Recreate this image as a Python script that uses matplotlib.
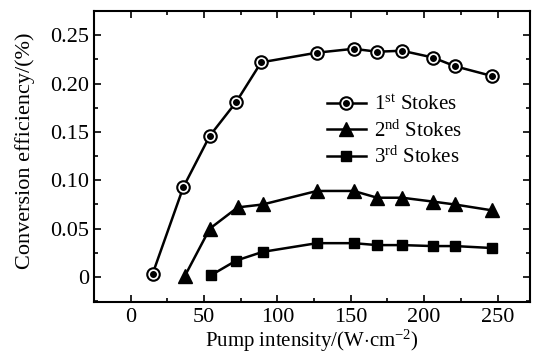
import matplotlib
matplotlib.use("Agg")
import matplotlib.pyplot as plt
from matplotlib.legend_handler import HandlerTuple
from matplotlib.ticker import MultipleLocator

plt.rcParams['font.family'] = ['Liberation Serif', 'DejaVu Serif']
plt.rcParams['mathtext.fontset'] = 'custom'
plt.rcParams['mathtext.rm'] = 'Liberation Serif'
plt.rcParams['mathtext.it'] = 'Liberation Serif:italic'

# data
x1 = [15, 36, 54, 72, 89, 127, 152, 168, 185, 206, 221, 246]
y1 = [0.003, 0.093, 0.146, 0.181, 0.222, 0.232, 0.236, 0.233, 0.234, 0.227, 0.218, 0.208]

x2 = [37, 54, 73, 90, 127, 152, 168, 185, 206, 221, 246]
y2 = [0.001, 0.050, 0.072, 0.075, 0.089, 0.089, 0.082, 0.082, 0.078, 0.075, 0.069]

x3 = [55, 72, 90, 127, 152, 168, 185, 206, 221, 246]
y3 = [0.002, 0.017, 0.026, 0.035, 0.035, 0.033, 0.033, 0.032, 0.032, 0.030]

labels = ['1$^{\\rm st}$ Stokes', '2$^{\\rm nd}$ Stokes', '3$^{\\rm rd}$ Stokes']
xticks = [0, 50, 100, 150, 200, 250]
yticks = [0, 0.05, 0.10, 0.15, 0.20, 0.25]
ytick_labels = ['0', '0.05', '0.10', '0.15', '0.20', '0.25']

fig = plt.figure(figsize=(5.33, 3.58), dpi=100)
ax = fig.add_axes([0.176, 0.156, 0.818, 0.813])

lw = 1.8
l1, = ax.plot(x1, y1, '-', color='black', lw=lw, marker='o', ms=9,
              mfc='white', mec='black', mew=1.5)
d1, = ax.plot(x1, y1, ls='none', marker='o', ms=4, color='black')
l2, = ax.plot(x2, y2, '-', color='black', lw=lw, marker='^', ms=9.5)
l3, = ax.plot(x3, y3, '-', color='black', lw=lw, marker='s', ms=7.5)

ax.set_xlim(-25, 272)
ax.set_ylim(-0.026, 0.275)
ax.set_xticks(xticks)
ax.set_yticks(yticks)
ax.set_yticklabels(ytick_labels)
ax.xaxis.set_minor_locator(MultipleLocator(25))
ax.yaxis.set_minor_locator(MultipleLocator(0.025))
ax.tick_params(which='both', direction='in', top=True, right=True, labelsize=16, width=1.2)
ax.tick_params(which='major', length=5)
ax.tick_params(which='minor', length=3)
ax.tick_params(axis='x', pad=4)
for s in ax.spines.values():
    s.set_linewidth(1.5)

ax.set_xlabel('Pump intensity/(W$\\cdot$cm$^{-2}$)', fontsize=15, labelpad=1)
ax.set_ylabel('Conversion efficiency/(%)', fontsize=16)
ax.yaxis.set_label_coords(-0.135, 0.52)

ax.legend([(l1, d1), l2, l3], labels, handler_map={tuple: HandlerTuple(ndivide=1, pad=0)},
          loc='upper left', bbox_to_anchor=(0.51, 0.746), frameon=False, fontsize=15,
          handlelength=1.9, labelspacing=0.26, handletextpad=0.4, borderpad=0)

fig.savefig('out.png', dpi=100)
